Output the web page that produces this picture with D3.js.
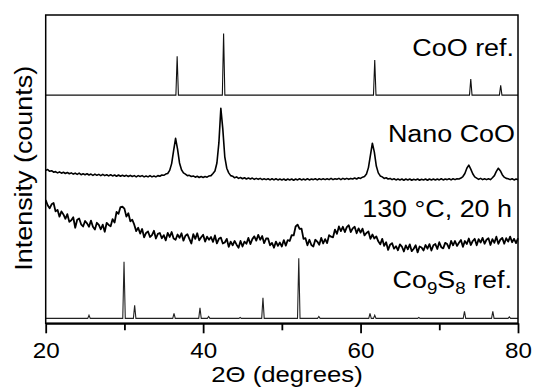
<!DOCTYPE html>
<html>
<head>
<meta charset="utf-8">
<script src="https://cdn.jsdelivr.net/npm/d3@7/dist/d3.min.js"></script>
<style>
  body { margin: 0; background: #fff; }
  svg { display: block; }
  text { font-family: "Liberation Sans", Arial, sans-serif; fill: #000; }
</style>
</head>
<body>
<svg id="chart" width="533" height="390"></svg>
<script>
// sampling grid of the measured patterns (2θ, degrees)
const angleStart = 20;
const angleStep = 0.25;

// Nano CoO, stacked intensity (a.u.), one value per 0.25°
const nanoCoO = [
  49.6, 49.9, 49.3, 49.5,  49.0, 49.2, 48.8, 49.1,  48.7, 49.0, 48.6, 48.9,  48.5, 48.8, 48.4, 48.7,
  48.3, 48.7, 48.2, 48.5,  48.2, 48.5, 48.1, 48.4,  48.0, 48.4, 48.0, 48.3,  47.9, 48.3, 47.9, 48.2,
  47.8, 48.2, 47.8, 48.1,  47.7, 48.1, 47.7, 48.0,  47.7, 48.0, 47.6, 48.0,  47.6, 47.9, 47.5, 47.9,
  47.6, 47.9, 47.5, 47.8,  47.5, 47.9, 47.5, 47.8,  47.5, 47.9, 47.7, 48.1,  48.0, 48.4, 48.6, 49.6,
  51.8, 56.0, 60.0, 56.5,  52.0, 49.8, 48.8, 48.4,  47.9, 48.0, 47.6, 47.8,  47.4, 47.7, 47.3, 47.6,
  47.3, 47.6, 47.4, 47.8,  47.9, 48.6, 49.4, 52.0,  58.5, 69.7, 63.0, 54.0,  50.3, 48.8, 47.9, 47.7,
  47.2, 47.5, 47.0, 47.3,  46.9, 47.2, 46.8, 47.1,  46.8, 47.1, 46.7, 47.0,  46.7, 47.0, 46.6, 46.9,
  46.6, 46.9, 46.5, 46.9,  46.5, 46.9, 46.5, 46.8,  46.5, 46.8, 46.4, 46.8,  46.5, 46.8, 46.4, 46.8,
  46.5, 46.9, 46.5, 46.8,  46.5, 46.9, 46.5, 46.8,  46.6, 46.9, 46.5, 46.9,  46.6, 46.9, 46.6, 46.9,
  46.6, 47.0, 46.6, 46.9,  46.7, 47.0, 46.6, 47.0,  46.7, 47.0, 46.7, 47.0,  46.8, 47.1, 46.8, 47.2,
  47.0, 47.4, 47.6, 48.4,  50.5, 54.5, 58.4, 55.5,  51.0, 48.8, 47.8, 47.5,  47.0, 47.2, 46.8, 47.0,
  46.6, 46.9, 46.5, 46.8,  46.5, 46.8, 46.4, 46.8,  46.5, 46.8, 46.4, 46.7,  46.5, 46.8, 46.4, 46.7,
  46.5, 46.8, 46.4, 46.8,  46.5, 46.8, 46.5, 46.8,  46.5, 46.9, 46.5, 46.8,  46.6, 46.9, 46.5, 46.9,
  46.6, 46.9, 46.8, 47.1,  47.6, 48.6, 50.3, 51.3,  50.0, 48.5, 47.5, 47.1,  46.7, 47.0, 46.6, 46.9,
  46.6, 46.9, 46.6, 47.2,  47.9, 49.3, 50.3, 49.5,  48.2, 47.4, 47.0, 46.9,  46.6, 46.9, 46.5, 46.8,
  46.6
];

// 130 °C, 20 h sample, stacked intensity (a.u.), one value per 0.25°
const sample130 = [
  40.0, 38.3, 37.3, 38.6,  39.0, 36.3, 36.8, 34.6,  36.3, 35.3, 33.9, 35.4,  32.9, 33.4, 34.4, 31.0,
  33.6, 34.0, 32.1, 31.4,  33.2, 32.4, 31.3, 33.3,  31.3, 30.4, 32.6, 31.9,  30.5, 32.0, 29.7, 32.6,
  31.9, 31.5, 33.8, 32.7,  36.1, 35.5, 37.7, 37.8,  37.2, 34.6, 35.7, 33.1,  33.6, 32.0, 29.9, 31.0,
  29.1, 30.6, 27.9, 29.3,  29.8, 28.0, 28.6, 30.0,  27.5, 29.0, 29.3, 27.6,  28.6, 26.9, 29.3, 28.0,
  29.6, 27.5, 27.1, 28.8,  27.7, 29.2, 26.8, 28.4,  28.9, 27.4, 25.9, 28.9,  27.4, 29.2, 26.9, 27.9,
  28.7, 26.5, 28.1, 27.1,  28.0, 26.4, 28.5, 25.9,  27.4, 27.8, 25.9, 26.2,  27.4, 24.8, 26.5, 25.3,
  26.7, 25.5, 24.5, 26.7,  24.9, 26.5, 25.8, 27.7,  25.7, 27.3, 28.2, 26.8,  28.7, 27.1, 28.3, 26.0,
  27.5, 27.5, 25.3, 26.1,  24.5, 26.5, 25.1, 26.2,  24.9, 27.0, 25.2, 27.0,  26.7, 28.6, 28.5, 31.4,
  32.0, 30.6, 30.7, 27.4,  27.6, 25.3, 27.1, 25.4,  24.9, 27.1, 26.5, 25.5,  27.7, 25.9, 27.3, 26.0,
  28.6, 28.1, 27.9, 30.4,  29.0, 31.4, 29.9, 31.3,  29.6, 31.2, 31.8, 29.6,  30.8, 31.3, 29.2, 30.8,
  29.4, 30.7, 28.5, 29.3,  29.8, 27.4, 28.8, 27.5,  28.2, 26.6, 25.6, 27.4,  25.1, 26.3, 23.8, 25.5,
  26.0, 24.2, 25.0, 23.7,  25.6, 24.9, 23.3, 25.3,  24.0, 25.6, 23.4, 24.2,  25.3, 23.0, 24.9, 24.6,
  23.6, 25.4, 24.2, 25.7,  23.6, 25.3, 25.7, 24.1,  26.3, 24.7, 24.3, 26.1,  25.7, 24.3, 26.7, 25.3,
  26.7, 25.1, 26.1, 27.0,  24.8, 26.7, 25.7, 27.5,  25.4, 26.7, 27.4, 25.3,  27.3, 26.2, 27.7, 25.8,
  27.1, 27.6, 25.4, 27.3,  26.1, 28.1, 25.8, 27.1,  27.7, 25.8, 27.6, 26.5,  28.1, 26.3, 27.4, 26.0,
  27.6
];

// reference stick patterns: peak position (2θ), peak height above baseline (a.u.)
const cooRefBase = 74.0;
const cooRefPos = [36.7, 42.6, 61.8, 74.0, 77.8];
const cooRefInt = [12.6, 20.0, 11.4, 5.2, 3.2];

const co9s8Base = 1.6;
const co9s8Pos = [25.5, 29.95, 31.3, 36.3, 39.6, 40.7, 44.7, 47.6, 52.15, 54.7, 61.2, 61.8, 67.4, 73.2, 76.8, 78.9];
const co9s8Int = [1.0, 18.4, 4.2, 1.6, 3.4, 0.6, 0.3, 6.7, 19.5, 0.6, 1.6, 1.0, 0.3, 2.3, 2.3, 0.5];

const xMajorTicks = [20, 40, 60, 80];
const xMinorTicks = [30, 50, 70];

const width = 533, height = 390;
const margin = { left: 45.7, right: 15, top: 15, bottom: 66.7 };

const x = d3.scaleLinear().domain([20, 80]).range([margin.left, width - margin.right]);
const y = d3.scaleLinear().domain([0, 100]).range([height - margin.bottom, margin.top]);

const svg = d3.select("#chart");

const line = d3.line().x(d => x(d[0])).y(d => y(d[1]));

// sticks drawn as narrow spikes on a flat baseline
function stickPoints(base, pos, ints) {
  const pts = [[20, base]];
  pos.forEach((p, i) => {
    pts.push([p - 0.16, base], [p, base + ints[i]], [p + 0.16, base]);
  });
  pts.push([80, base]);
  return pts;
}
const measured = vals => vals.map((v, i) => [angleStart + i * angleStep, v]);

svg.append("path")
  .attr("d", line(stickPoints(cooRefBase, cooRefPos, cooRefInt)))
  .attr("fill", "none").attr("stroke", "#111").attr("stroke-width", 1.1);

svg.append("path")
  .attr("d", line(measured(nanoCoO)))
  .attr("fill", "none").attr("stroke", "#000").attr("stroke-width", 1.6)
  .attr("stroke-linejoin", "round");

svg.append("path")
  .attr("d", line(measured(sample130)))
  .attr("fill", "none").attr("stroke", "#000").attr("stroke-width", 1.8)
  .attr("stroke-linejoin", "round");

svg.append("path")
  .attr("d", line(stickPoints(co9s8Base, co9s8Pos, co9s8Int)))
  .attr("fill", "none").attr("stroke", "#222").attr("stroke-width", 1.1);

// frame
svg.append("rect")
  .attr("x", x(20)).attr("y", y(100))
  .attr("width", x(80) - x(20)).attr("height", y(0) - y(100))
  .attr("fill", "none").attr("stroke", "#000").attr("stroke-width", 1.5);

// x axis: major + minor ticks, outward
const axisG = svg.append("g").attr("transform", `translate(0,${y(0)})`);
axisG.append("g")
  .call(d3.axisBottom(x).tickValues(xMinorTicks).tickSize(7).tickSizeOuter(0).tickFormat(""))
  .call(g => g.select(".domain").remove())
  .call(g => g.selectAll("line").attr("stroke-width", 1.8));
axisG.append("g")
  .call(d3.axisBottom(x).tickValues(xMajorTicks).tickSize(10).tickSizeOuter(0))
  .call(g => g.select(".domain").attr("stroke-width", 2))
  .call(g => g.selectAll("line").attr("stroke-width", 1.8))
  .call(g => g.selectAll("text")
    .attr("y", 35).attr("dy", 0)
    .attr("font-size", 22).attr("font-family", "Liberation Sans, Arial, sans-serif")
    .attr("fill", "#000")
    .attr("transform", "scale(1.1,1)"));

// axis titles
svg.append("text")
  .attr("transform", "translate(287,381.7) scale(1.17,1)")
  .attr("text-anchor", "middle").attr("font-size", 22)
  .text("2Θ (degrees)");

svg.append("text")
  .attr("transform", "translate(32,168.3) rotate(-90) scale(1.17,1)")
  .attr("text-anchor", "middle").attr("font-size", 23)
  .text("Intensity (counts)");

// pattern labels
const labelG = svg.append("g").attr("font-size", 23).attr("text-anchor", "end");
labelG.append("text").attr("transform", "translate(514,55.7) scale(1.17,1)").text("CoO ref.");
labelG.append("text").attr("transform", "translate(515,141.7) scale(1.17,1)").text("Nano CoO");
labelG.append("text").attr("transform", "translate(512,216.7) scale(1.17,1)").text("130 °C, 20 h");
const co = labelG.append("text").attr("transform", "translate(512,288.3) scale(1.17,1)");
co.append("tspan").text("Co");
co.append("tspan").attr("font-size", 16).attr("dy", 6).text("9");
co.append("tspan").attr("dy", -6).text("S");
co.append("tspan").attr("font-size", 16).attr("dy", 6).text("8");
co.append("tspan").attr("dy", -6).text(" ref.");
</script>
</body>
</html>
